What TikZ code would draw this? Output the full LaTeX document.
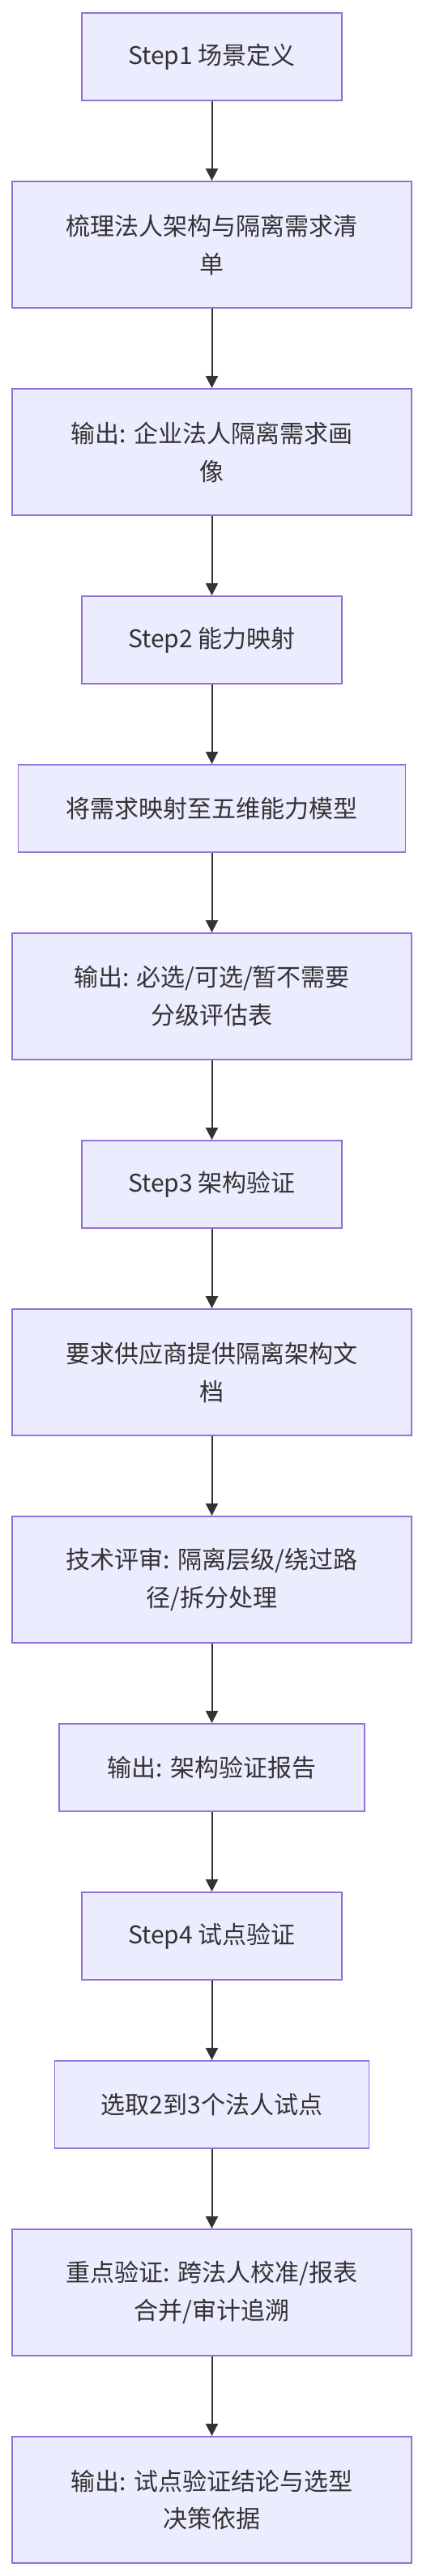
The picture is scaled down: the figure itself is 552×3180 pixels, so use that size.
\documentclass[tikz,border=0pt]{standalone}
\usepackage{fontspec}
\setmainfont{Noto Sans CJK SC}
\usetikzlibrary{arrows.meta}
\definecolor{boxfill}{HTML}{ECECFF}
\definecolor{boxline}{HTML}{9370DB}
\definecolor{ink}{HTML}{333333}
\tikzset{
  flowbox/.style={draw=boxline, fill=boxfill, line width=1.9pt, rectangle,
    inner sep=0pt, align=center, text=ink, font=\fontsize{30}{47}\selectfont},
  onebox/.style={flowbox, minimum height=108pt},
  twobox/.style={flowbox, minimum height=156pt},
  flowarrow/.style={draw=ink, line width=2pt, -{Triangle[length=15pt,width=15pt]}}
}
\begin{document}
\begin{tikzpicture}[x=1pt,y=1pt]
\useasboundingbox (0,0) rectangle (552,-3180);
\node[onebox, minimum width=321pt] (s1) at (261.5,-70) {Step1 场景定义};
\node[twobox, minimum width=493pt] (a1) at (261.5,-302) {梳理法人架构与隔离需求清\\单};
\node[twobox, minimum width=493pt] (o1) at (261.5,-558) {输出: 企业法人隔离需求画\\像};
\node[onebox, minimum width=321pt] (s2) at (261.5,-790) {Step2 能力映射};
\node[onebox, minimum width=478pt] (a2) at (261.5,-998) {将需求映射至五维能力模型};
\node[twobox, minimum width=493pt] (o2) at (261.5,-1230) {输出: 必选/可选/暂不需要\\分级评估表};
\node[onebox, minimum width=321pt] (s3) at (261.5,-1462) {Step3 架构验证};
\node[twobox, minimum width=493pt] (a3) at (261.5,-1694) {要求供应商提供隔离架构文\\档};
\node[twobox, minimum width=493pt] (b3) at (261.5,-1950) {技术评审: 隔离层级/绕过路\\径/拆分处理};
\node[onebox, minimum width=377pt] (o3) at (261.5,-2182) {输出: 架构验证报告};
\node[onebox, minimum width=321pt] (s4) at (261.5,-2390) {Step4 试点验证};
\node[onebox, minimum width=388pt] (a4) at (261.5,-2598) {选取2到3个法人试点};
\node[twobox, minimum width=493pt] (b4) at (261.5,-2830) {重点验证: 跨法人校准/报表\\合并/审计追溯};
\node[twobox, minimum width=493pt] (o4) at (261.5,-3086) {输出: 试点验证结论与选型\\决策依据};
\draw[flowarrow] (s1) -- (a1);
\draw[flowarrow] (a1) -- (o1);
\draw[flowarrow] (o1) -- (s2);
\draw[flowarrow] (s2) -- (a2);
\draw[flowarrow] (a2) -- (o2);
\draw[flowarrow] (o2) -- (s3);
\draw[flowarrow] (s3) -- (a3);
\draw[flowarrow] (a3) -- (b3);
\draw[flowarrow] (b3) -- (o3);
\draw[flowarrow] (o3) -- (s4);
\draw[flowarrow] (s4) -- (a4);
\draw[flowarrow] (a4) -- (b4);
\draw[flowarrow] (b4) -- (o4);
\end{tikzpicture}
\end{document}
